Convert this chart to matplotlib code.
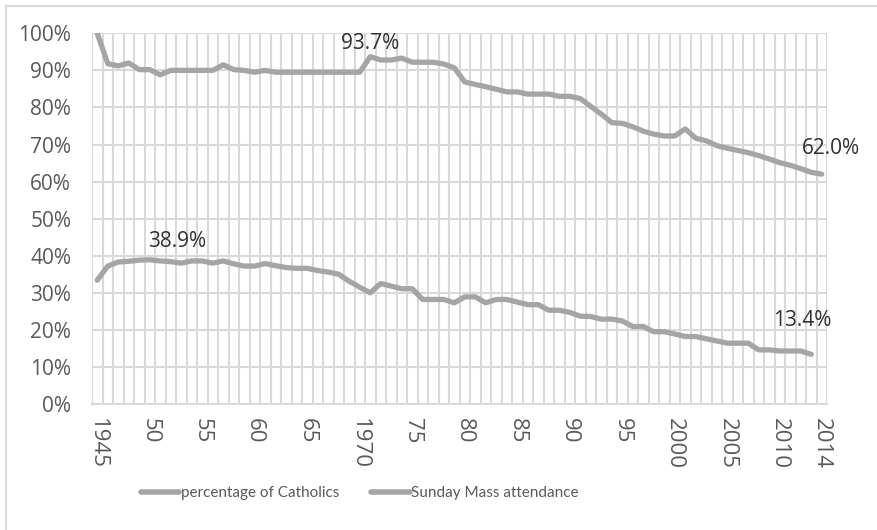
import matplotlib
matplotlib.use('Agg')
import matplotlib.pyplot as plt
from matplotlib.patches import Rectangle
import numpy as np

years = list(range(1945, 2015))

catholics = [
    100.0, 91.8, 91.2, 92.0, 90.2, 90.2, 88.8, 90.0, 90.0, 90.0,
    90.0, 90.0, 91.5, 90.2, 90.0, 89.5, 90.0, 89.5, 89.5, 89.5,
    89.5, 89.5, 89.5, 89.5, 89.5, 89.5, 93.7, 92.8, 92.8, 93.3,
    92.2, 92.2, 92.2, 91.7, 90.7, 86.9, 86.2, 85.6, 84.9, 84.2,
    84.2, 83.6, 83.6, 83.6, 83.0, 83.0, 82.4, 80.3, 78.2, 75.9,
    75.7, 74.8, 73.6, 72.8, 72.3, 72.3, 74.2, 71.7, 71.0, 69.7,
    69.0, 68.4, 67.8, 67.0, 66.1, 65.1, 64.4, 63.5, 62.5, 62.0,
]

# no value for 2014
mass = [
    33.4, 37.2, 38.3, 38.5, 38.8, 38.9, 38.6, 38.4, 38.0, 38.6,
    38.6, 38.0, 38.6, 37.8, 37.2, 37.2, 37.9, 37.3, 36.8, 36.6,
    36.6, 36.0, 35.6, 35.0, 33.1, 31.5, 30.0, 32.5, 31.8, 31.1,
    31.1, 28.2, 28.2, 28.2, 27.3, 28.9, 28.9, 27.3, 28.2, 28.2,
    27.5, 26.8, 26.8, 25.3, 25.3, 24.7, 23.7, 23.6, 22.9, 22.9,
    22.4, 20.9, 20.9, 19.5, 19.5, 18.9, 18.2, 18.2, 17.6, 17.0,
    16.4, 16.4, 16.4, 14.6, 14.6, 14.3, 14.3, 14.3, 13.4, np.nan,
]

series_names = ["percentage of Catholics", "Sunday Mass attendance"]

tick_years = [1945, 1950, 1955, 1960, 1965, 1970, 1975, 1980, 1985, 1990,
              1995, 2000, 2005, 2010, 2014]
tick_labels = ["1945", "50", "55", "60", "65", "1970", "75", "80", "85", "90",
               "95", "2000", "2005", "2010", "2014"]

# (series index, year) of labelled points, with pixel offsets for the text
label_points = [(0, 1971, (0, 13)), (0, 2014, (9, 26)),
                (1, 1950, (27, 18)), (1, 2013, (-9, 34))]

line_col = "#A5A5A5"
grid_col = "#D9D9D9"
text_col = "#595959"

fig = plt.figure(figsize=(8.77, 5.30), dpi=100)
ax = fig.add_axes([92 / 877, 1 - 404 / 530, (827 - 92) / 877, (404 - 33.3) / 530])

data = [catholics, mass]
for vals, name in zip(data, series_names):
    ax.plot(years, vals, color=line_col, lw=3.8, solid_capstyle='round',
            solid_joinstyle='round', label=name, zorder=3)

ax.set_xlim(years[0] - 0.5, years[-1] + 0.5)
ax.set_ylim(0, 100)

# category gridlines between years
ax.set_xticks(np.arange(years[0] - 0.5, years[-1] + 1), minor=True)
ax.grid(True, which='minor', axis='x', color=grid_col, lw=1.5, zorder=0)
ax.set_yticks(range(0, 101, 10))
ax.set_yticklabels([f"{v}%" for v in range(0, 101, 10)])
ax.grid(True, which='major', axis='y', color=grid_col, lw=1.5, zorder=0)
ax.set_xticks(tick_years)
ax.set_xticklabels(tick_labels, rotation=-90)
ax.tick_params(axis='both', which='both', length=0, colors=text_col)
ax.tick_params(axis='y', pad=15, labelsize=15)
ax.tick_params(axis='x', pad=10, labelsize=16)
for lab in ax.get_xticklabels() + ax.get_yticklabels():
    lab.set_fontfamily("Open Sans")
    lab.set_color(text_col)
for side in ["top", "right", "left"]:
    ax.spines[side].set_visible(False)
ax.spines["bottom"].set_color(grid_col)
ax.spines["bottom"].set_linewidth(1.5)

for si, yr, off in label_points:
    val = data[si][years.index(yr)]
    ax.annotate(f"{val:.1f}%", (yr, val), xytext=off, textcoords='offset pixels',
                ha='center', va='center', fontsize=15, family="Open Sans",
                color="#303030")

leg = fig.legend(loc='center', bbox_to_anchor=(360 / 877, 1 - 493 / 530), ncol=2,
                 frameon=False, handlelength=2.5, handletextpad=0.1,
                 columnspacing=2.1, prop={'family': 'Lato', 'size': 11})
for t in leg.get_texts():
    t.set_color(text_col)
for h in leg.get_lines():
    h.set_linewidth(4)

# chart area border
fig.patches.append(Rectangle((6 / 877, -0.05), 1.2, 1 - 6 / 530 + 0.05,
                             transform=fig.transFigure, fill=False,
                             edgecolor=grid_col, lw=1.5))

fig.savefig("out.png", dpi=100)
plt.close(fig)
